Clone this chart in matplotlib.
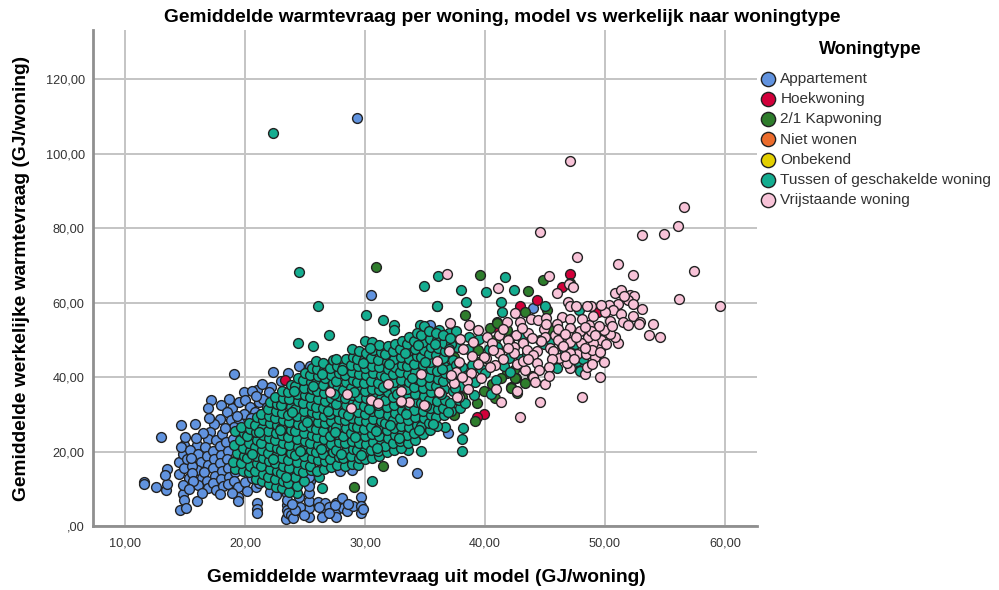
import numpy as np
import matplotlib
matplotlib.use("Agg")
import matplotlib.pyplot as plt

# ================================
# Data (GJ/woning)
# ================================
x_ticks = [10, 20, 30, 40, 50, 60]
x_tick_labels = ["10,00", "20,00", "30,00", "40,00", "50,00", "60,00"]
y_ticks = [0, 20, 40, 60, 80, 100, 120]
y_tick_labels = [",00", "20,00", "40,00", "60,00", "80,00", "100,00", "120,00"]

appartement = [
    (29.3, 109.7), (30.5, 62.0), (19.1, 40.9), (22.3, 41.4), (24.5, 43.0), (13.0, 23.9), (14.7, 27.2), (15.8, 27.3),
    (44.0, 58.6), (35.4, 54.0), (36.9, 24.9), (33.1, 17.4), (34.3, 14.3), (28.9, 15.0), (28.1, 17.3), (25.4, 43.1),
    (11.6, 11.9), (11.6, 11.2), (12.6, 10.4), (13.4, 9.6), (13.5, 11.4), (13.5, 15.3), (13.3, 13.7), (14.5, 13.9),
    (14.5, 17.2), (14.9, 21.9), (14.8, 19.3), (16.0, 21.9), (14.8, 8.7), (14.9, 7.0), (14.6, 4.3), (15.1, 4.8),
    (16.0, 6.8), (19.4, 7.9), (19.4, 6.8), (21.0, 6.1), (21.0, 4.6), (21.0, 3.6), (14.9, 15.6), (15.3, 12.9),
    (14.8, 11.0), (15.2, 18.1), (14.7, 21.1), (15.4, 20.4), (17.2, 33.9), (16.9, 31.8), (18.0, 32.4), (18.9, 31.7),
    (18.5, 30.6), (17.9, 28.8), (17.4, 27.5), (17.1, 25.3), (16.9, 23.5), (17.6, 23.0), (18.1, 24.8), (18.8, 28.4),
    (19.5, 27.9), (19.9, 36.0), (19.5, 33.3), (20.0, 33.8), (20.4, 32.1), (21.0, 36.6), (20.6, 36.3), (21.2, 33.3),
    (21.5, 34.2), (22.2, 37.3), (22.0, 36.0), (20.8, 30.6), (21.8, 32.0), (19.9, 30.2), (20.5, 29.0), (19.1, 26.6),
    (16.1, 19.4), (16.3, 17.1), (16.0, 15.1), (16.4, 13.0), (16.1, 11.1), (16.7, 21.2), (16.8, 18.8), (16.9, 16.4),
    (16.6, 14.4), (16.8, 12.1), (16.9, 10.2), (17.3, 20.1), (17.4, 18.0), (17.3, 15.6), (17.5, 13.4), (17.3, 11.5),
    (17.6, 9.6), (17.9, 21.4), (18.0, 19.0), (17.9, 16.9), (18.1, 14.8), (18.0, 12.6), (18.2, 10.8), (18.4, 22.6),
    (18.6, 20.2), (18.5, 18.1), (18.6, 15.7), (18.7, 13.3), (18.6, 11.2), (19.0, 23.3), (19.1, 17.4), (19.2, 14.6),
    (19.1, 12.2), (19.4, 10.4), (15.6, 16.2), (15.6, 14.2), (15.7, 12.0), (15.5, 18.4), (19.5, 22.4), (20.0, 11.9),
    (20.6, 12.9), (20.9, 10.6), (21.2, 11.6), (22.1, 9.2), (22.6, 8.4), (23.7, 10.8), (24.4, 11.4), (25.0, 14.2),
    (25.4, 12.1), (26.3, 15.4), (27.9, 14.9), (23.5, 8.6), (23.5, 5.6), (23.5, 4.3), (23.5, 2.5), (23.4, 1.9),
    (23.6, 3.4), (23.8, 3.0), (23.5, 7.0), (24.0, 2.2), (24.7, 3.9), (25.3, 2.5), (25.3, 4.8), (25.3, 6.8),
    (25.3, 8.8), (25.3, 10.8), (25.3, 13.3), (24.6, 12.8), (24.6, 5.2), (24.5, 7.9), (24.2, 4.4), (26.1, 6.5),
    (26.7, 4.3), (26.4, 2.5), (27.6, 6.1), (27.6, 4.3), (27.6, 2.5), (28.1, 7.6), (28.2, 4.8), (28.5, 3.9),
    (29.0, 5.5), (29.7, 7.7), (29.7, 5.5), (29.7, 3.4), (26.7, 6.1), (27.0, 5.2), (27.5, 5.6), (26.2, 5.1),
    (28.6, 6.0), (23.9, 5.8), (24.9, 2.9), (29.8, 4.6), (27.0, 3.6),
    (16.5, 24.9), (15.9, 23.6), (18.3, 26.4), (17.0, 28.9), (18.7, 34.1), (19.3, 29.6), (20.9, 34.9), (21.4, 38.2),
    (23.0, 38.9), (23.6, 41.2), (15.3, 9.9), (17.9, 8.6), (18.9, 9.0), (20.2, 9.4), (16.4, 8.9), (15.0, 24.0),
]
hoekwoning = [
    (47.1, 67.6), (46.4, 64.3), (44.3, 60.7), (42.9, 59.2), (49.4, 57.6), (39.9, 30.1), (39.3, 29.4), (23.3, 39.2),
    (27.8, 41.3), (41.1, 53.1),
]
kapwoning = [
    (30.9, 69.6), (39.6, 67.5), (43.6, 63.2), (44.8, 66.2), (38.3, 56.6), (43.3, 57.4), (45.2, 58.1), (41.0, 54.7),
    (40.4, 53.1), (41.8, 52.7), (40.8, 50.0), (39.4, 47.3), (37.4, 45.5), (39.3, 44.2), (42.4, 42.0), (41.8, 41.0),
    (42.6, 39.9), (43.3, 38.4), (42.2, 37.3), (42.7, 35.7), (40.8, 34.3), (39.3, 33.0), (37.4, 29.8), (44.6, 50.0),
    (46.4, 48.7), (47.1, 65.2), (45.4, 52.7), (31.5, 16.1), (29.1, 10.4), (39.2, 28.2), (36.7, 32.5), (36.0, 33.9),
    (42.2, 37.0), (42.5, 39.7), (41.0, 54.5), (40.6, 38.2), (41.3, 39.9), (38.1, 34.6), (39.9, 36.4), (43.9, 40.2),
]
niet_wonen = []
onbekend = []
tussenwoning = [
    # losse punten
    (22.3, 105.6), (24.5, 68.3), (30.1, 56.6), (31.5, 55.4), (32.4, 54.0), (32.4, 52.7), (27.0, 51.2), (25.7, 48.5),
    (26.1, 59.2), (36.0, 59.2), (38.4, 60.3), (41.3, 60.3), (41.4, 57.4), (36.1, 67.3), (34.9, 64.6), (38.0, 63.5),
    (40.1, 63.0), (41.7, 66.8), (42.4, 63.4), (36.0, 59.1), (45.0, 59.2), (47.8, 58.1), (36.2, 52.7), (34.6, 54.0),
    (37.0, 52.0), (37.6, 52.4), (37.7, 48.2), (34.7, 20.2), (36.7, 26.7), (38.2, 26.4), (38.1, 23.4), (38.1, 20.2),
    (30.6, 12.2), (33.6, 20.4), (26.2, 13.2), (26.4, 10.2), (24.4, 49.2), (24.3, 9.0), (22.7, 10.5), (48.0, 42.4),
    # dichte wolk
    (19.2, 15.4), (19.0, 17.2), (19.3, 19.6), (19.1, 21.8), (19.2, 25.5),
    (19.8, 14.9), (19.7, 16.8), (19.9, 18.7), (19.8, 20.9), (19.6, 23.1), (19.9, 24.9), (19.7, 26.6),
    (20.3, 14.4), (20.4, 16.2), (20.2, 18.3), (20.4, 20.1), (20.3, 22.4), (20.2, 24.3), (20.4, 26.1), (20.3, 27.8),
    (20.9, 12.6), (20.8, 14.8), (21.0, 16.9), (20.9, 18.9), (20.8, 21.2), (21.0, 23.2), (20.9, 25.2), (20.8, 27.1), (21.0, 29.2),
    (21.4, 12.1), (21.5, 13.9), (21.3, 16.1), (21.5, 18.2), (21.4, 20.3), (21.3, 22.2), (21.5, 24.4), (21.4, 26.3), (21.5, 28.4), (21.3, 30.1),
    (22.0, 11.2), (21.9, 13.3), (22.1, 15.4), (22.0, 17.4), (21.9, 19.5), (22.1, 21.5), (22.0, 23.6), (21.9, 25.6), (22.1, 27.7), (22.0, 29.6), (21.9, 31.4), (22.1, 33.2),
    (22.6, 10.6), (22.5, 12.7), (22.7, 14.8), (22.5, 16.8), (22.6, 18.9), (22.7, 20.9), (22.5, 23.0), (22.6, 24.9), (22.7, 27.1), (22.5, 29.0), (22.6, 31.0), (22.7, 32.9), (22.5, 34.6),
    (23.1, 10.1), (23.2, 12.1), (23.0, 14.2), (23.2, 16.2), (23.1, 18.2), (23.0, 20.3), (23.2, 22.3), (23.1, 24.4), (23.0, 26.4), (23.2, 28.4), (23.1, 30.5), (23.0, 32.4), (23.2, 34.4), (23.1, 36.2),
    (23.7, 9.2), (23.6, 11.6), (23.8, 13.6), (23.7, 15.6), (23.6, 17.7), (23.8, 19.7), (23.7, 21.7), (23.6, 23.8), (23.8, 25.8), (23.7, 27.9), (23.6, 29.9), (23.8, 31.9), (23.7, 34.0), (23.6, 35.9), (23.8, 38.0),
    (24.3, 10.7), (24.2, 13.2), (24.4, 15.1), (24.3, 17.2), (24.2, 19.2), (24.4, 21.3), (24.3, 23.3), (24.2, 25.4), (24.4, 27.4), (24.3, 29.5), (24.2, 31.5), (24.4, 33.6), (24.3, 35.5), (24.2, 37.6), (24.4, 39.7),
    (24.9, 12.2), (24.8, 14.5), (25.0, 16.7), (24.9, 18.7), (24.8, 20.8), (25.0, 22.8), (24.9, 24.9), (24.8, 26.9), (25.0, 29.0), (24.9, 31.0), (24.8, 33.1), (25.0, 35.1), (24.9, 37.2), (24.8, 39.2), (25.0, 41.1),
    (25.5, 15.1), (25.4, 16.2), (25.6, 18.3), (25.5, 20.3), (25.4, 22.4), (25.6, 24.4), (25.5, 26.5), (25.4, 28.5), (25.6, 30.6), (25.5, 32.6), (25.4, 34.7), (25.6, 36.7), (25.5, 38.8), (25.4, 40.7), (25.6, 42.4),
    (26.0, 14.7), (26.1, 17.8), (25.9, 19.8), (26.1, 21.9), (26.0, 23.9), (25.9, 26.0), (26.1, 28.0), (26.0, 30.1), (25.9, 32.1), (26.1, 34.2), (26.0, 36.2), (25.9, 38.3), (26.1, 40.3), (26.0, 42.2), (25.9, 44.3),
    (26.6, 15.3), (26.7, 17.4), (26.5, 19.4), (26.7, 21.4), (26.6, 23.5), (26.5, 25.5), (26.7, 27.6), (26.6, 29.6), (26.5, 31.7), (26.7, 33.7), (26.6, 35.8), (26.5, 37.8), (26.7, 39.9), (26.6, 41.9), (26.5, 43.8),
    (27.2, 15.9), (27.1, 17.9), (27.3, 20.0), (27.2, 22.0), (27.1, 24.1), (27.3, 26.1), (27.2, 28.2), (27.1, 30.2), (27.3, 32.3), (27.2, 34.3), (27.1, 36.4), (27.3, 38.4), (27.2, 40.5), (27.1, 42.5), (27.3, 44.6),
    (27.7, 16.4), (27.8, 18.5), (27.6, 20.5), (27.8, 22.6), (27.7, 24.6), (27.6, 26.7), (27.8, 28.7), (27.7, 30.8), (27.6, 32.8), (27.8, 34.9), (27.7, 36.9), (27.6, 39.0), (27.8, 41.0), (27.7, 43.1), (27.6, 45.0),
    (28.3, 16.2), (28.2, 18.2), (28.4, 20.2), (28.3, 22.2), (28.2, 24.3), (28.4, 26.3), (28.3, 28.4), (28.2, 30.4), (28.4, 32.5), (28.3, 34.4), (28.2, 36.6), (28.4, 38.6), (28.3, 40.7), (28.2, 42.7), (28.4, 44.8),
    (28.9, 16.6), (28.8, 18.8), (29.0, 20.8), (28.9, 22.9), (28.8, 24.9), (29.0, 27.0), (28.9, 29.0), (28.8, 31.1), (29.0, 33.1), (28.9, 35.2), (28.8, 37.2), (29.0, 39.3), (28.9, 41.3), (28.8, 43.4), (29.0, 45.4), (28.9, 47.5),
    (29.4, 16.3), (29.5, 18.3), (29.3, 20.4), (29.5, 22.4), (29.4, 24.5), (29.3, 26.5), (29.5, 28.6), (29.4, 30.6), (29.3, 32.7), (29.5, 34.7), (29.4, 36.8), (29.3, 38.8), (29.5, 40.9), (29.4, 42.9), (29.3, 45.0), (29.5, 47.0),
    (30.0, 18.0), (29.9, 20.0), (30.1, 22.0), (30.0, 24.1), (29.9, 26.1), (30.1, 28.2), (30.0, 30.2), (29.9, 32.3), (30.1, 34.3), (30.0, 36.4), (29.9, 38.4), (30.1, 40.5), (30.0, 42.5), (29.9, 44.6), (30.1, 46.6), (30.0, 49.8),
    (30.6, 18.2), (30.5, 20.5), (30.7, 22.6), (30.6, 24.6), (30.5, 26.7), (30.7, 28.7), (30.6, 30.8), (30.5, 32.8), (30.7, 34.9), (30.6, 36.9), (30.5, 39.0), (30.7, 41.0), (30.6, 43.1), (30.5, 45.1), (30.7, 47.2), (30.6, 49.4),
    (31.2, 18.7), (31.1, 20.1), (31.3, 22.1), (31.2, 24.2), (31.1, 26.2), (31.3, 28.3), (31.2, 30.3), (31.1, 32.4), (31.3, 34.4), (31.2, 36.5), (31.1, 38.5), (31.3, 40.6), (31.2, 42.6), (31.1, 44.7), (31.3, 46.7), (31.2, 48.6),
    (31.8, 19.9), (31.7, 21.6), (31.9, 23.7), (31.8, 25.7), (31.7, 27.8), (31.9, 29.8), (31.8, 31.9), (31.7, 33.9), (31.9, 36.0), (31.8, 38.0), (31.7, 40.1), (31.9, 42.1), (31.8, 44.2), (31.7, 46.2), (31.9, 48.3),
    (32.4, 20.3), (32.3, 22.3), (32.5, 24.4), (32.4, 26.4), (32.3, 28.5), (32.5, 30.5), (32.4, 32.6), (32.3, 34.6), (32.5, 36.7), (32.4, 38.7), (32.3, 40.8), (32.5, 42.8), (32.4, 44.9), (32.3, 46.9), (32.5, 48.9),
    (33.0, 21.0), (32.9, 22.9), (33.1, 25.0), (33.0, 27.0), (32.9, 29.1), (33.1, 31.1), (33.0, 33.2), (32.9, 35.2), (33.1, 37.3), (33.0, 39.3), (32.9, 41.4), (33.1, 43.4), (33.0, 45.5), (32.9, 47.5), (33.1, 49.6),
    (33.6, 22.4), (33.5, 24.4), (33.7, 26.5), (33.6, 28.5), (33.5, 30.6), (33.7, 32.6), (33.6, 34.7), (33.5, 36.7), (33.7, 38.8), (33.6, 40.8), (33.5, 42.9), (33.7, 44.9), (33.6, 47.0), (33.5, 49.0), (33.7, 50.8),
    (34.2, 23.1), (34.1, 25.1), (34.3, 27.2), (34.2, 29.2), (34.1, 31.3), (34.3, 33.3), (34.2, 35.4), (34.1, 37.4), (34.3, 39.5), (34.2, 41.5), (34.1, 43.6), (34.3, 45.6), (34.2, 47.7), (34.1, 49.7), (34.3, 51.8),
    (34.8, 24.8), (34.7, 26.8), (34.9, 28.9), (34.8, 30.9), (34.7, 33.0), (34.9, 35.0), (34.8, 37.1), (34.7, 39.1), (34.9, 41.2), (34.8, 43.2), (34.7, 45.3), (34.9, 47.3), (34.8, 49.4), (34.7, 51.4), (34.9, 53.7),
    (35.4, 25.7), (35.3, 27.7), (35.5, 29.8), (35.4, 31.8), (35.3, 33.9), (35.5, 35.9), (35.4, 38.0), (35.3, 40.0), (35.5, 42.1), (35.4, 44.1), (35.3, 46.2), (35.5, 48.2), (35.4, 50.3), (35.3, 52.3),
    (36.0, 27.0), (35.9, 29.4), (36.1, 31.4), (36.0, 33.5), (35.9, 37.6), (36.1, 39.6), (36.0, 41.7), (35.9, 46.0), (36.1, 47.8), (36.0, 49.9), (35.9, 51.9),
    (36.6, 29.8), (36.5, 31.7), (36.7, 33.8), (36.6, 36.9), (36.5, 38.9), (36.7, 41.0), (36.6, 43.0), (36.5, 45.1), (36.7, 47.1), (36.6, 49.2), (36.5, 51.2),
    (37.2, 30.8), (37.1, 33.1), (37.3, 36.2), (37.2, 39.9), (37.1, 42.2), (37.3, 44.6), (37.2, 48.8), (37.1, 50.4),
    (37.9, 31.6), (37.8, 33.9), (38.0, 37.7), (38.1, 42.8), (38.6, 47.5), (38.9, 43.2), (39.2, 38.7), (39.7, 42.1), (40.3, 47.6), (40.9, 39.2),
    (42.0, 45.2), (43.0, 44.9), (44.9, 48.9), (46.6, 47.6), (47.7, 44.3), (47.9, 41.6),
    # tussendoor, breekt het patroon
    (20.6, 19.3), (21.2, 25.3), (22.3, 18.1), (22.9, 25.9), (23.4, 13.1), (23.9, 30.7), (24.6, 20.2), (24.1, 36.4),
    (25.2, 27.9), (25.7, 37.7), (26.3, 20.8), (26.9, 30.9), (26.4, 40.9), (27.5, 25.2), (27.4, 35.6), (28.0, 19.4),
    (28.6, 29.7), (28.1, 41.9), (29.2, 23.8), (29.1, 36.1), (29.7, 19.2), (29.8, 43.8), (30.3, 31.5), (30.9, 25.6),
    (30.4, 47.9), (31.5, 37.3), (31.0, 20.9), (32.1, 27.1), (32.0, 43.5), (32.7, 35.5), (32.8, 23.7), (33.3, 46.4),
    (33.4, 30.1), (33.9, 39.9), (34.5, 25.9), (34.4, 48.7), (35.1, 32.2), (35.0, 44.2), (35.7, 27.3), (35.8, 49.0),
    (36.3, 35.6), (36.4, 42.1), (36.9, 30.6), (37.0, 47.6), (37.5, 37.1), (37.6, 43.4), (38.3, 33.0), (38.4, 40.4),
    (38.7, 50.9), (39.1, 35.1), (39.5, 50.2), (40.0, 41.2), (40.5, 35.5), (41.0, 48.0), (41.6, 43.1), (42.1, 41.4),
    (43.1, 50.4), (43.5, 46.2), (45.5, 50.1), (46.0, 42.4), (47.5, 48.8), (48.2, 44.9),
]
vrijstaand = [
    (47.1, 98.0), (56.6, 85.6), (56.1, 80.5), (54.9, 78.6), (53.1, 78.3), (44.6, 79.0), (47.7, 72.2), (51.1, 70.3),
    (57.4, 68.4), (52.3, 67.5), (56.2, 61.0), (59.6, 59.2), (45.3, 67.1), (36.8, 67.8), (41.1, 64.0), (46.0, 62.6),
    (47.0, 65.0), (47.3, 64.3), (50.8, 62.6), (51.3, 63.4), (52.1, 62.1), (52.4, 61.7), (51.9, 60.8), (52.3, 59.6),
    (51.1, 59.7), (50.3, 59.5), (50.7, 58.1), (51.3, 57.0), (51.5, 54.9), (51.9, 54.0), (52.3, 56.5), (52.9, 54.9),
    (52.8, 54.2), (53.1, 58.4), (54.0, 54.2), (53.7, 51.2), (54.6, 50.7), (51.1, 49.3), (50.8, 50.9), (50.4, 51.5),
    (49.9, 52.7), (49.5, 53.8), (48.7, 54.0), (48.1, 55.6), (48.8, 59.0), (48.5, 59.1), (46.9, 60.1), (47.1, 59.0),
    (47.6, 59.2), (46.4, 56.3), (47.1, 55.6), (47.1, 53.1), (46.0, 54.3), (43.8, 55.6), (44.4, 55.4), (42.9, 54.7),
    (42.5, 57.2), (41.8, 54.9), (38.7, 54.0), (37.1, 54.5), (39.4, 52.7), (37.9, 50.3), (37.0, 46.9), (39.0, 49.5),
    (40.2, 50.7), (41.2, 51.2), (41.5, 52.9), (42.0, 50.0), (42.6, 51.3), (43.6, 52.0), (44.9, 52.9), (45.0, 50.9),
    (45.8, 51.3), (46.1, 50.0), (45.4, 47.8), (45.7, 46.9), (43.2, 49.1), (42.4, 48.2), (42.4, 46.4), (43.5, 47.3),
    (44.3, 47.1), (44.0, 46.0), (44.3, 43.9), (44.5, 42.0), (44.0, 40.0), (44.2, 38.6), (45.0, 38.1), (43.3, 42.0),
    (42.7, 43.5), (41.2, 46.4), (41.5, 44.9), (40.1, 45.2), (40.8, 43.3), (40.4, 42.8), (37.8, 44.2), (37.6, 41.3),
    (38.8, 41.0), (38.5, 39.1), (37.4, 38.4), (38.6, 36.7), (40.9, 36.8), (42.7, 36.4), (41.3, 33.2), (37.8, 34.8),
    (36.2, 36.0), (34.9, 32.5), (33.7, 33.2), (34.7, 40.9), (36.0, 44.3), (44.6, 33.2), (48.1, 34.7), (49.6, 40.1),
    (48.3, 40.8), (47.1, 42.4), (46.8, 43.9), (46.2, 45.1), (45.6, 44.8), (47.7, 46.2), (48.4, 46.1), (49.2, 45.3),
    (49.7, 48.2), (49.7, 50.0), (49.0, 49.1), (48.6, 50.7), (47.9, 52.3), (48.8, 52.3), (47.1, 50.9), (47.1, 49.5),
    (47.1, 46.4), (48.5, 42.8), (42.9, 29.2), (28.5, 35.4), (28.8, 31.8), (30.5, 33.9), (31.9, 38.2), (33.0, 36.4),
    (33.0, 33.7), (36.2, 35.9), (37.7, 34.8), (38.1, 40.0), (39.9, 45.5), (40.6, 49.1), (41.9, 50.0), (27.1, 35.9),
    (31.1, 33.1), (45.1, 56.0), (46.5, 48.4), (48.9, 47.4), (50.4, 55.1), (49.0, 56.4), (43.2, 44.3), (45.3, 42.6),
    (46.1, 53.0), (46.7, 51.6), (48.0, 49.1), (48.3, 47.9), (49.6, 46.8), (50.1, 49.0), (47.6, 50.8), (48.3, 53.4),
    (49.2, 51.2), (50.6, 53.8), (45.1, 54.4), (44.7, 49.6), (43.9, 50.5), (43.1, 53.2), (46.7, 45.6), (47.4, 44.9),
    (49.9, 44.1), (48.9, 43.6), (51.6, 61.9), (50.0, 57.5), (49.7, 59.3), (41.9, 47.8), (40.7, 47.2), (39.4, 43.5),
    (38.2, 47.6), (38.9, 45.8), (37.2, 40.6), (39.7, 39.9), (43.6, 44.8), (45.3, 40.2),
]

# ================================
# Figure and axes
# ================================
plt.rcParams['font.family'] = ['Liberation Sans', 'DejaVu Sans']

fig = plt.figure(figsize=(9.99, 5.90), dpi=100)
ax = fig.add_axes([93 / 999, 1 - 526 / 590, (757 - 93) / 999, (526 - 30) / 590])

series = [
    ("Appartement", appartement, "#6193DF"),
    ("Hoekwoning", hoekwoning, "#D2003A"),
    ("2/1 Kapwoning", kapwoning, "#2E7D2C"),
    ("Niet wonen", niet_wonen, "#EC6C2C"),
    ("Onbekend", onbekend, "#E3CF00"),
    ("Tussen of geschakelde woning", tussenwoning, "#14AD90"),
    ("Vrijstaande woning", vrijstaand, "#F8C3D8"),
]

handles = []
for name, points, color in series:
    pts = np.array(points, dtype=float).reshape(-1, 2)
    h = ax.scatter(pts[:, 0], pts[:, 1], s=50, c=color, edgecolors="#222222", linewidths=1.0,
                   label=name, zorder=3, clip_on=False)
    handles.append(h)

ax.set_xlim(7.33, 62.67)
ax.set_ylim(0, 133.3)
ax.set_xticks(x_ticks)
ax.set_xticklabels(x_tick_labels)
ax.set_yticks(y_ticks)
ax.set_yticklabels(y_tick_labels)
ax.tick_params(length=0, labelsize=9.2, labelcolor="#333333")
ax.tick_params(axis='x', pad=8)
ax.tick_params(axis='y', pad=6)

ax.grid(True, color="#c4c4c4", linewidth=1.4)
ax.set_axisbelow(True)
for side in ["top", "right"]:
    ax.spines[side].set_visible(False)
for side in ["left", "bottom"]:
    ax.spines[side].set_color("#8f8f8f")
    ax.spines[side].set_linewidth(2)

# ================================
# Titles
# ================================
fig.text(502 / 999, 1 - 18 / 590, "Gemiddelde warmtevraag per woning, model vs werkelijk naar woningtype",
         ha="center", va="center", fontsize=13.8, fontweight="bold")
fig.text(426 / 999, 1 - 577 / 590, "Gemiddelde warmtevraag uit model (GJ/woning)",
         ha="center", va="center", fontsize=13.8, fontweight="bold")
fig.text(22 / 999, 1 - 278 / 590, "Gemiddelde werkelijke warmtevraag (GJ/woning)",
         ha="center", va="center", rotation=90, fontsize=13.8, fontweight="bold")

# ================================
# Legend
# ================================
fig.text(870 / 999, 1 - 50 / 590, "Woningtype", ha="center", va="center", fontsize=13, fontweight="bold")
ax.legend(handles=handles, loc="upper left", bbox_to_anchor=(748 / 999, 1 - 61 / 590),
          bbox_transform=fig.transFigure, frameon=False, fontsize=11.1, labelcolor="#333333",
          markerscale=1.45, labelspacing=0.405, handletextpad=0.2, handlelength=1.2, borderpad=0.2)

fig.savefig("out.png", dpi=100)
